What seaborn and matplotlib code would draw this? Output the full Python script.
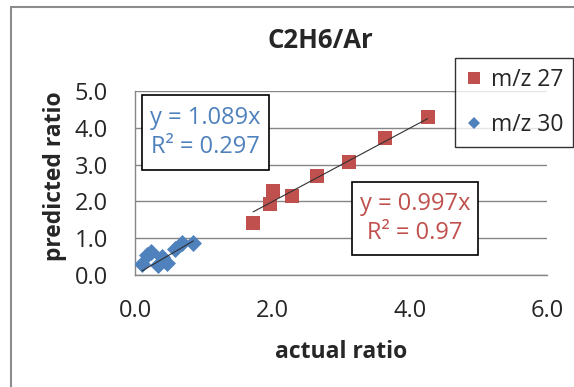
import matplotlib
matplotlib.use("Agg")

import matplotlib.pyplot as plt
from matplotlib.lines import Line2D
from matplotlib.patches import Rectangle
import numpy as np
import pandas as pd
import seaborn as sns

# data
red_x = [1.72, 1.96, 2.01, 2.28, 2.65, 3.12, 3.64, 4.26]
red_y = [1.42, 1.94, 2.28, 2.14, 2.69, 3.06, 3.73, 4.29]
blue_x = [0.10, 0.17, 0.24, 0.34, 0.39, 0.46, 0.58, 0.68, 0.85]
blue_y = [0.30, 0.54, 0.63, 0.27, 0.48, 0.32, 0.72, 0.86, 0.86]
series_names = ["m/z 27", "m/z 30"]
slopes = [0.997, 1.089]
r2_values = ["0.97", "0.297"]
x_ticks = [0, 2, 4, 6]
y_ticks = [0, 1, 2, 3, 4, 5]

RED = "#C0504D"
BLUE = "#4F81BD"
GRAY = "#868686"

sns.set_style("white")
plt.rcParams["font.family"] = ["Open Sans", "DejaVu Sans"]

W, H = 574, 387
fig = plt.figure(figsize=(W / 100, H / 100), dpi=100)
ax = fig.add_axes([135 / W, 1 - 275 / H, (547 - 135) / W, (275 - 91) / H])

df_red = pd.DataFrame({"x": red_x, "y": red_y})
df_blue = pd.DataFrame({"x": blue_x, "y": blue_y})

sns.scatterplot(data=df_red, x="x", y="y", ax=ax, color=RED, marker="s",
                s=110, linewidth=0, zorder=3, legend=False)
sns.scatterplot(data=df_blue, x="x", y="y", ax=ax, color=BLUE, marker="D",
                s=75, linewidth=0, zorder=3, legend=False)

# trend lines through origin
for xs, k in [(red_x, slopes[0]), (blue_x, slopes[1])]:
    xx = np.array([min(xs), max(xs)])
    ax.plot(xx, k * xx, color="#303030", lw=0.8, zorder=4)

ax.set_xlim(0, 6)
ax.set_ylim(0, 5)
ax.set_xticks(x_ticks)
ax.set_xticklabels([f"{v:.1f}" for v in x_ticks])
ax.set_yticks(y_ticks)
ax.set_yticklabels([f"{v:.1f}" for v in y_ticks])
ax.tick_params(axis="x", length=5, width=1, color=GRAY, pad=12, labelsize=17)
ax.tick_params(axis="y", length=6.5, width=1, color=GRAY, pad=13, labelsize=17)
ax.yaxis.grid(True, color=GRAY, lw=1)
ax.set_axisbelow(True)
for side in ["top", "right"]:
    ax.spines[side].set_visible(False)
for side in ["left", "bottom"]:
    ax.spines[side].set_color(GRAY)
    ax.spines[side].set_linewidth(1)

ax.set_xlabel("")
ax.set_ylabel("")
fig.text(341 / W, 1 - 352 / H, "actual ratio", ha="center", va="center",
         fontsize=16.5, fontweight="bold")
fig.text(55 / W, 1 - 176 / H, "predicted ratio", ha="center", va="center",
         rotation=90, fontsize=16.5, fontweight="bold")
fig.text(320 / W, 1 - 41 / H, "C2H6/Ar", ha="center", va="center",
         fontsize=18.5, fontweight="bold")


def eq_box(x0, y0, x1, y1, text, color):
    fig.add_artist(Rectangle((x0 / W, 1 - y1 / H), (x1 - x0) / W, (y1 - y0) / H,
                             transform=fig.transFigure, fc="white", ec="black",
                             lw=1.2, zorder=5))
    fig.text((x0 + x1) / 2 / W, 1 - (y0 + y1) / 2 / H, text, ha="center",
             va="center", multialignment="center", color=color, fontsize=17,
             linespacing=1.3, zorder=6)


eq_box(142, 95, 269, 170, f"y = {slopes[1]:.3f}x\nR² = {r2_values[1]}", BLUE)
eq_box(352, 182, 478, 255, f"y = {slopes[0]:.3f}x\nR² = {r2_values[0]}", RED)

handles = [
    Line2D([], [], ls="none", marker="s", color=RED, markersize=9, mew=0),
    Line2D([], [], ls="none", marker="D", color=BLUE, markersize=6.5, mew=0),
]
leg = fig.legend(handles, series_names, loc="upper left",
                 bbox_to_anchor=(455 / W, 1 - 58 / H), borderaxespad=0,
                 fontsize=16.5, frameon=True, fancybox=False, edgecolor="black",
                 borderpad=0.45, labelspacing=0.9, handlelength=0.75,
                 handletextpad=0.35)
leg.get_frame().set_linewidth(1)

# outer chart border
fig.add_artist(Rectangle((10.5 / W, -0.2), 2, 1.2 - 6.5 / H, transform=fig.transFigure,
                         fill=False, ec="#8c8c8c", lw=1.5))

fig.savefig("out.png", dpi=100)
